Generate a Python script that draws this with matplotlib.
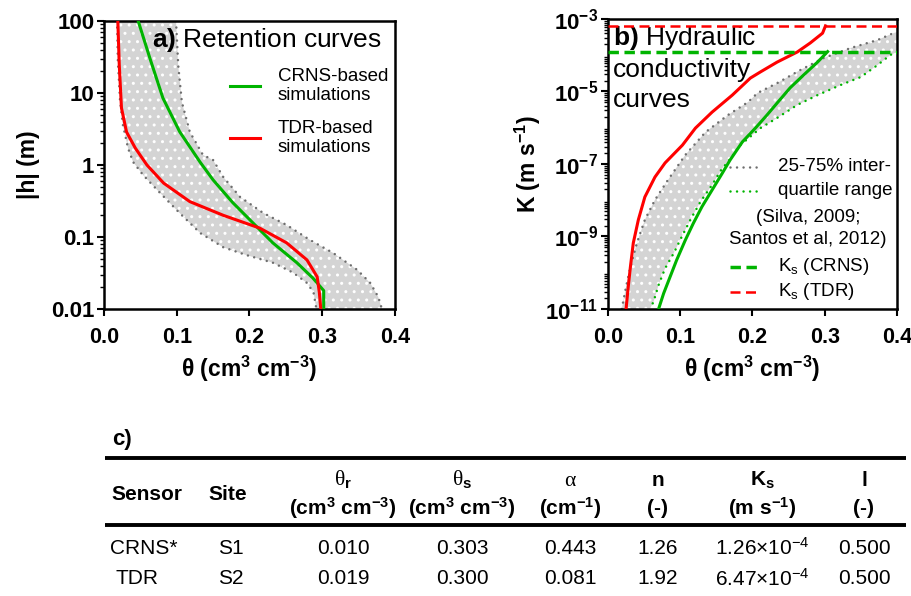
import numpy as np
import matplotlib
matplotlib.use('Agg')
import matplotlib.pyplot as plt
from matplotlib import font_manager
from matplotlib.ticker import LogLocator, NullFormatter

plt.rcParams['font.family'] = ['Liberation Sans', 'DejaVu Sans']
plt.rcParams['mathtext.fontset'] = 'custom'
plt.rcParams['mathtext.rm'] = 'Liberation Serif'
plt.rcParams['mathtext.sf'] = 'Liberation Sans'
plt.rcParams['mathtext.bf'] = 'Liberation Sans:bold'
plt.rcParams['mathtext.it'] = 'Liberation Sans:italic'

GREEN = '#00b400'
RED = '#ff0000'
DOTS = '#6e6e6e'
BAND = '#d4d4d4'

# ---- a) retention curves: theta (cm3 cm-3) vs |h| (m) ----
ret_crns_theta = [0.047, 0.063, 0.081, 0.104, 0.132, 0.150, 0.177, 0.205, 0.232, 0.265, 0.287, 0.302, 0.302]
ret_crns_h = [100, 30.6, 8.5, 2.9, 1.1, 0.62, 0.30, 0.156, 0.083, 0.044, 0.027, 0.018, 0.01]

ret_tdr_theta = [0.019, 0.021, 0.024, 0.031, 0.043, 0.059, 0.082, 0.118, 0.164, 0.214, 0.251, 0.279, 0.293, 0.296, 0.298]
ret_tdr_h = [100, 24.5, 6.2, 2.87, 1.72, 1.0, 0.56, 0.31, 0.20, 0.133, 0.083, 0.048, 0.028, 0.017, 0.01]

# 25-75% band (literature)
ret_lo_theta = [0.018, 0.019, 0.022, 0.026, 0.033, 0.040, 0.054, 0.077, 0.104, 0.132, 0.164, 0.196, 0.232, 0.260, 0.279, 0.288, 0.292]
ret_lo_h = [100, 29, 7.9, 3.6, 1.72, 1.1, 0.72, 0.41, 0.215, 0.114, 0.072, 0.056, 0.044, 0.032, 0.023, 0.017, 0.01]
ret_hi_theta = [0.099, 0.102, 0.107, 0.118, 0.136, 0.150, 0.164, 0.187, 0.219, 0.251, 0.283, 0.315, 0.348, 0.366, 0.377, 0.382]
ret_hi_h = [100, 24.5, 7.5, 2.87, 1.38, 1.17, 0.68, 0.36, 0.215, 0.147, 0.091, 0.060, 0.035, 0.023, 0.0147, 0.01]

# ---- b) hydraulic conductivity: theta vs log10 K (m s-1) ----
k_tdr_theta = [0.301, 0.297, 0.280, 0.262, 0.234, 0.211, 0.197, 0.172, 0.144, 0.121, 0.103, 0.079, 0.065, 0.051, 0.042, 0.035, 0.031, 0.028, 0.025]
k_tdr_log = [-3.19, -3.39, -3.66, -3.91, -4.19, -4.46, -4.63, -5.10, -5.57, -6.01, -6.48, -6.97, -7.36, -7.91, -8.54, -9.18, -9.84, -10.39, -11.0]

k_crns_theta = [0.304, 0.290, 0.271, 0.252, 0.234, 0.220, 0.204, 0.186, 0.169, 0.158, 0.144, 0.130, 0.118, 0.107, 0.095, 0.086, 0.077, 0.070]
k_crns_log = [-3.90, -4.19, -4.54, -4.90, -5.32, -5.65, -6.01, -6.39, -6.89, -7.26, -7.72, -8.18, -8.64, -9.10, -9.65, -10.11, -10.57, -11.0]

k_up_theta = [0.019, 0.025, 0.031, 0.040, 0.051, 0.065, 0.083, 0.107, 0.135, 0.166, 0.194, 0.207, 0.234, 0.266, 0.298, 0.336, 0.373, 0.395, 0.400]
k_up_log = [-11.0, -10.39, -9.84, -9.18, -8.54, -7.99, -7.44, -6.75, -6.12, -5.65, -5.29, -5.04, -4.77, -4.41, -4.08, -3.80, -3.58, -3.39, -3.36]
k_low_theta = [0.400, 0.391, 0.373, 0.350, 0.322, 0.290, 0.262, 0.234, 0.211, 0.183, 0.165, 0.158, 0.144, 0.128, 0.114, 0.102, 0.091, 0.079, 0.070, 0.063, 0.058]
k_low_log = [-3.91, -3.99, -4.27, -4.60, -4.82, -5.10, -5.37, -5.73, -6.01, -6.48, -6.97, -7.12, -7.58, -8.04, -8.54, -9.01, -9.46, -9.88, -10.34, -10.80, -11.0]

# ---- c) table ----
sensors = ['CRNS*', 'TDR']
sites = ['S1', 'S2']
theta_r = [0.010, 0.019]
theta_s = [0.303, 0.300]
alpha = [0.443, 0.081]
n_vg = [1.26, 1.92]
ks = [1.26e-4, 6.47e-4]
l_vg = [0.500, 0.500]

xticks = [0.0, 0.1, 0.2, 0.3, 0.4]
xlabs = ['0.0', '0.1', '0.2', '0.3', '0.4']
h_ticks = [0.01, 0.1, 1, 10, 100]
h_labs = ['0.01', '0.1', '1', '10', '100']
k_ticks = [1e-11, 1e-9, 1e-7, 1e-5, 1e-3]
k_labs = [r'$\mathbf{10^{-11}}$', r'$\mathbf{10^{-9}}$', r'$\mathbf{10^{-7}}$', r'$\mathbf{10^{-5}}$', r'$\mathbf{10^{-3}}$']

# the table text in the original is narrow and tall
installed = {f.name for f in font_manager.fontManager.ttflist}
if 'Liberation Sans Narrow' in installed:
    TFAM = ['Liberation Sans Narrow', 'Liberation Sans', 'DejaVu Sans']
    TSIZE = 17
else:
    TFAM = ['Liberation Sans', 'DejaVu Sans']
    TSIZE = 15

fig = plt.figure(figsize=(9.12, 5.96), dpi=100)

dot = dict(ls=(0, (0.01, 2.6)), dash_capstyle='round', lw=1.8)


def style(ax):
    for sp in ax.spines.values():
        sp.set_linewidth(1.8)
    ax.tick_params(which='major', direction='out', length=5, width=1.5, pad=2)
    ax.tick_params(which='minor', direction='out', length=3, width=1.0)
    ax.set_xlim(0, 0.4)
    ax.set_xticks(xticks, xlabs, fontsize=15.5, fontweight='bold')
    ax.tick_params(axis='x', pad=8)
    ax.set_xlabel(r'$\mathbf{\theta\ (cm^{3}\ cm^{-3})}$', fontsize=16.5, labelpad=4)
    ax.yaxis.set_minor_locator(LogLocator(base=10, subs=np.arange(2, 10), numticks=100))
    ax.yaxis.set_minor_formatter(NullFormatter())


# panel a
ax1 = fig.add_axes([104 / 912, 1 - 309 / 596, 291 / 912, 288 / 596])
ax1.set_yscale('log')
band_a_x = ret_lo_theta + ret_hi_theta[::-1]
band_a_y = ret_lo_h + ret_hi_h[::-1]
ax1.fill(band_a_x, band_a_y, facecolor=BAND, edgecolor='white', hatch='..', lw=0, zorder=1)
ax1.plot(ret_lo_theta, ret_lo_h, color=DOTS, zorder=2, **dot)
ax1.plot(ret_hi_theta, ret_hi_h, color=DOTS, zorder=2, **dot)
ax1.plot(ret_crns_theta, ret_crns_h, color=GREEN, lw=2.2, zorder=3)
ax1.plot(ret_tdr_theta, ret_tdr_h, color=RED, lw=2.2, zorder=3)
ax1.set_ylim(0.01, 100)
style(ax1)
ax1.set_yticks(h_ticks, h_labs, fontsize=16, fontweight='bold')
ax1.set_ylabel('|h| (m)', fontsize=16.5, fontweight='bold', labelpad=8)

ax1.text(0.165, 0.934, r'$\mathbf{a)}$ Retention curves', transform=ax1.transAxes,
         fontsize=19, va='center', ha='left')
ax1.plot([0.433, 0.536], [0.774, 0.774], transform=ax1.transAxes, color=GREEN, lw=2.2)
ax1.plot([0.433, 0.536], [0.594, 0.594], transform=ax1.transAxes, color=RED, lw=2.2)
ax1.text(0.597, 0.774, 'CRNS-based\nsimulations', transform=ax1.transAxes, fontsize=13.5,
         va='center', ha='left', linespacing=1.1)
ax1.text(0.597, 0.594, 'TDR-based\nsimulations', transform=ax1.transAxes, fontsize=13.5,
         va='center', ha='left', linespacing=1.1)

# panel b
ax2 = fig.add_axes([608 / 912, 1 - 309 / 596, 289 / 912, 290 / 596])
ax2.set_yscale('log')
band_b_x = k_up_theta + k_low_theta
band_b_y = [10 ** v for v in k_up_log + k_low_log]
ax2.fill(band_b_x, band_b_y, facecolor=BAND, edgecolor='white', hatch='..', lw=0, zorder=1)
ax2.plot(k_up_theta, [10 ** v for v in k_up_log], color=DOTS, zorder=2, **dot)
ax2.plot(k_low_theta, [10 ** v for v in k_low_log], color=GREEN, zorder=2, **dot)
ax2.plot(k_tdr_theta, [10 ** v for v in k_tdr_log], color=RED, lw=2.2, zorder=3)
ax2.plot(k_crns_theta, [10 ** v for v in k_crns_log], color=GREEN, lw=2.2, zorder=3)
ax2.axhline(ks[0], color=GREEN, lw=2.5, ls=(0, (3, 1.6)), zorder=4)
ax2.axhline(ks[1], color=RED, lw=1.8, ls=(0, (4, 2.2)), zorder=4)
ax2.set_ylim(1e-11, 1e-3)
style(ax2)
ax2.set_yticks(k_ticks, k_labs, fontsize=16)
ax2.set_ylabel(r'$\mathbf{K\ (m\ s^{-1})}$', fontsize=16.5, labelpad=2)

ax2.text(0.017, 0.935, r'$\mathbf{b)}$ Hydraulic', transform=ax2.transAxes, fontsize=19, va='center')
ax2.text(0.017, 0.824, 'conductivity', transform=ax2.transAxes, fontsize=19, va='center')
ax2.text(0.017, 0.721, 'curves', transform=ax2.transAxes, fontsize=19, va='center')

hx = [0.422, 0.516]
ax2.plot(hx, [0.490, 0.490], transform=ax2.transAxes, color=DOTS, **dot)
ax2.plot(hx, [0.407, 0.407], transform=ax2.transAxes, color=GREEN, **dot)
ax2.plot(hx, [0.145, 0.145], transform=ax2.transAxes, color=GREEN, lw=2.5, ls=(0, (3, 1.6)))
ax2.plot(hx, [0.059, 0.059], transform=ax2.transAxes, color=RED, lw=1.8, ls=(0, (4, 2.2)))
leg_kw = dict(transform=ax2.transAxes, fontsize=13.5, va='center')
ax2.text(0.588, 0.490, '25-75% inter-', ha='left', **leg_kw)
ax2.text(0.588, 0.407, 'quartile range', ha='left', **leg_kw)
ax2.text(0.692, 0.317, '(Silva, 2009;', ha='center', **leg_kw)
ax2.text(0.692, 0.241, 'Santos et al, 2012)', ha='center', **leg_kw)
ax2.text(0.588, 0.145, r'K$_\mathsf{s}$ (CRNS)', ha='left', **leg_kw)
ax2.text(0.588, 0.059, r'K$_\mathsf{s}$ (TDR)', ha='left', **leg_kw)

# panel c: table drawn in pixel coordinates
tab = fig.add_axes([0, 0, 1, 1], zorder=-1)
tab.set_xlim(0, 912)
tab.set_ylim(596, 0)
tab.axis('off')

tab.text(112, 440, 'c)', fontsize=16, fontweight='bold', va='center', family=TFAM)
tab.plot([105, 906], [458, 458], color='black', lw=2.8, solid_capstyle='butt')
tab.plot([105, 906], [525, 525], color='black', lw=2.8, solid_capstyle='butt')

col_x = [343, 462, 570, 658, 762, 864]
col_heads = [r'$\mathrm{\theta}_{\mathbf{r}}$', r'$\mathrm{\theta}_{\mathbf{s}}$', r'$\mathrm{\alpha}$',
             'n', r'$\mathbf{K_{s}}$', 'l']
col_units = [r'$\mathbf{(cm^{3}\ cm^{-3})}$', r'$\mathbf{(cm^{3}\ cm^{-3})}$', r'$\mathbf{(cm^{-1})}$',
             '(-)', r'$\mathbf{(m\ s^{-1})}$', '(-)']
tab.text(111, 494, 'Sensor', fontsize=TSIZE, fontweight='bold', va='center', family=TFAM)
tab.text(228, 494, 'Site', fontsize=TSIZE, fontweight='bold', va='center', ha='center', family=TFAM)
for x, hd, un in zip(col_x, col_heads, col_units):
    tab.text(x, 480, hd, fontsize=15.5 if '\\mathrm' in hd else TSIZE, fontweight='bold',
             ha='center', va='center', family=TFAM)
    tab.text(x, 508, un, fontsize=15, fontweight='bold', ha='center', va='center', family=TFAM)


def ks_fmt(v):
    e = int(np.floor(np.log10(v)))
    return '%.2f×10$^{\\mathsf{%d}}$' % (v / 10 ** e, e)


row_y = [548, 579]
for i, y in enumerate(row_y):
    tab.text(110 if i == 0 else 116, y, sensors[i], fontsize=TSIZE, va='center', family=TFAM)
    tab.text(231, y, sites[i], fontsize=TSIZE, va='center', ha='center', family=TFAM)
    vals = ['%.3f' % theta_r[i], '%.3f' % theta_s[i], '%.3f' % alpha[i], '%.2f' % n_vg[i],
            ks_fmt(ks[i]), '%.3f' % l_vg[i]]
    for x, v in zip(col_x, vals):
        tab.text(x, y, v, fontsize=TSIZE, va='center', ha='center', family=TFAM)

fig.savefig('out.png', dpi=100)
